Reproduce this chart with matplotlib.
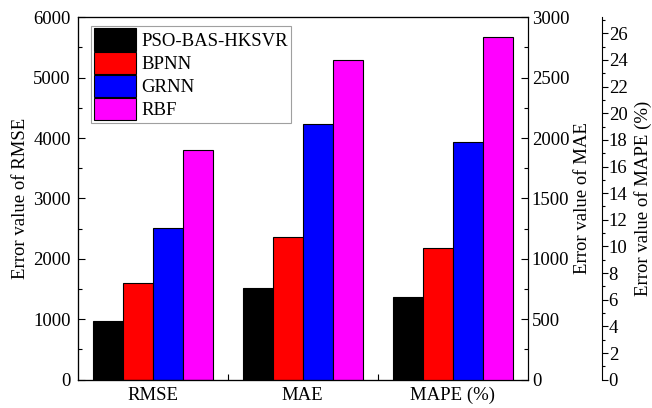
import matplotlib
matplotlib.use("Agg")
import matplotlib.pyplot as plt
from matplotlib.patches import Patch
from matplotlib.ticker import MultipleLocator, FixedLocator
import numpy as np

plt.rcParams['font.family'] = ['Liberation Serif', 'DejaVu Serif']

categories = ["RMSE", "MAE", "MAPE (%)"]
models = ["PSO-BAS-HKSVR", "BPNN", "GRNN", "RBF"]
colors = ["#000000", "#ff0000", "#0000ff", "#ff00ff"]

rmse = [977, 1606, 2512, 3803]
mae = [757, 1181, 2114, 2647]
mape = [6.19, 9.86, 17.82, 25.7]

fs = 13.5
fig = plt.figure(figsize=(6.52, 4.08), dpi=100)
ax = fig.add_axes([0.1192, 0.0694, 0.6902, 0.8882])
ax2 = ax.twinx()
ax3 = ax.twinx()

width = 0.2
offsets = (np.arange(4) - 1.5) * width
bar_kw = dict(edgecolor="black", linewidth=0.8)

for i in range(4):
    ax.bar(0 + offsets[i], rmse[i], width, color=colors[i], **bar_kw)
    ax2.bar(1 + offsets[i], mae[i], width, color=colors[i], **bar_kw)
    ax3.bar(2 + offsets[i], mape[i], width, color=colors[i], **bar_kw)

ax.set_xlim(-0.5, 2.5)
ax.set_ylim(0, 6000)
ax2.set_ylim(0, 3000)
ax3.set_ylim(0, 27.2)

ax.set_xticks(range(3))
ax.set_xticklabels(categories, fontsize=fs)
ax.xaxis.set_minor_locator(FixedLocator([0.5, 1.5]))
ax.tick_params(axis="x", which="major", length=0, pad=5)
ax.tick_params(axis="x", which="minor", direction="in", length=4, width=0.8)

ax.yaxis.set_major_locator(MultipleLocator(1000))
ax.yaxis.set_minor_locator(MultipleLocator(500))
ax.tick_params(axis="y", which="major", direction="in", length=5, width=0.8,
               labelsize=fs, pad=5)
ax.tick_params(axis="y", which="minor", direction="in", length=3, width=0.8)
ax.set_ylabel("Error value of RMSE", fontsize=fs, labelpad=3)

ax2.yaxis.set_major_locator(MultipleLocator(500))
ax2.yaxis.set_minor_locator(MultipleLocator(250))
ax2.tick_params(axis="y", which="major", direction="in", length=5, width=0.8,
                labelsize=fs, pad=3)
ax2.tick_params(axis="y", which="minor", direction="in", length=3, width=0.8)
ax2.set_ylabel("Error value of MAE", fontsize=fs, labelpad=3)

# third scale sits 74 px (53 pt) to the right of the frame
ax3.spines["right"].set_position(("outward", 53.3))
ax3.yaxis.set_major_locator(MultipleLocator(2))
ax3.yaxis.set_minor_locator(MultipleLocator(1))
ax3.tick_params(axis="y", which="major", direction="out", length=4, width=0.8,
                labelsize=fs, pad=1)
ax3.tick_params(axis="y", which="minor", direction="out", length=2.5, width=0.8)
ax3.set_ylabel("Error value of MAPE (%)", fontsize=fs, labelpad=5)

for a in (ax, ax2, ax3):
    for s in a.spines.values():
        s.set_linewidth(0.8)

handles = [Patch(facecolor=c, edgecolor="black", linewidth=0.8) for c in colors]
leg = ax3.legend(handles, models, loc="upper left",
                 bbox_to_anchor=(0.0296, 0.977), fontsize=fs,
                 handlelength=2.24, handleheight=1.45, labelspacing=0.05,
                 handletextpad=0.3, borderpad=0.15, borderaxespad=0.0,
                 fancybox=False, framealpha=1, edgecolor="#a0a0a0")
leg.get_frame().set_linewidth(0.8)

fig.savefig("out.png", dpi=100)
